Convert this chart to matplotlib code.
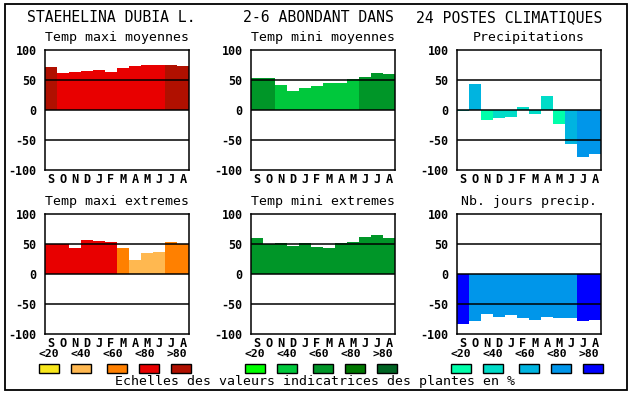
import matplotlib
matplotlib.use("Agg")
import matplotlib.pyplot as plt
from matplotlib.patches import Rectangle
import numpy as np

W, H = 630, 394

months = ["S", "O", "N", "D", "J", "F", "M", "A", "M", "J", "J", "A"]
class_labels = ["<20", "<40", "<60", "<80", ">80"]

reds = ["#f8e71c", "#ffb850", "#ff8000", "#e80000", "#b01000"]
greens = ["#00ff00", "#00c83c", "#009628", "#007800", "#006423"]
blues = ["#00ffaa", "#00dcc8", "#00b4e0", "#0096ea", "#0000ff"]

title_left = "STAEHELINA DUBIA L."
title_mid = "2-6 ABONDANT DANS"
title_right = "24 POSTES CLIMATIQUES"
footer = "Echelles des valeurs indicatrices des plantes en %"

t1 = "Temp maxi moyennes"
v1 = [72, 62, 64, 65, 67, 64, 70, 73, 75, 75, 75, 73]
c1 = [4, 3, 3, 3, 3, 3, 3, 3, 3, 3, 4, 4]

t2 = "Temp mini moyennes"
v2 = [53, 53, 42, 32, 37, 40, 45, 45, 52, 55, 62, 60]
c2 = [2, 2, 1, 1, 1, 1, 1, 1, 1, 2, 2, 2]

t3 = "Precipitations"
v3 = [-2, 43, -16, -14, -11, 5, -6, 23, -23, -56, -78, -73]
c3 = [1, 2, 0, 1, 1, 1, 1, 1, 0, 2, 3, 3]

t4 = "Temp maxi extremes"
v4 = [50, 50, 43, 57, 55, 53, 43, 23, 35, 37, 53, 50]
c4 = [3, 3, 3, 3, 3, 3, 2, 1, 1, 1, 2, 2]

t5 = "Temp mini extremes"
v5 = [60, 50, 52, 47, 52, 45, 43, 52, 53, 62, 65, 60]
c5 = [2, 2, 2, 2, 2, 2, 2, 2, 2, 2, 2, 2]

t6 = "Nb. jours precip."
v6 = [-83, -78, -66, -71, -68, -73, -76, -71, -73, -73, -78, -76]
c6 = [4, 3, 3, 3, 3, 3, 3, 3, 3, 3, 4, 4]

yticks = [-100, -50, 0, 50, 100]

MONO = "DejaVu Sans Mono"

fig = plt.figure(figsize=(W / 100, H / 100), dpi=100)
fig.patch.set_facecolor("white")


def fx(x):
    return x / W


def fy(y):
    return 1 - y / H


def axes_px(left, top, w, h):
    return fig.add_axes([fx(left), fy(top + h), w / W, h / H])


# outer frame
fig.add_artist(Rectangle((fx(5), fy(390)), (627 - 5) / W, (390 - 4) / H,
                         transform=fig.transFigure, fill=False,
                         edgecolor="black", linewidth=1.3))

fig.text(fx(27), fy(18), title_left, family=MONO, fontsize=10.6,
         ha="left", va="center")
fig.text(fx(243), fy(18), title_mid, family=MONO, fontsize=10.6,
         ha="left", va="center")
fig.text(fx(602), fy(18), title_right, family=MONO, fontsize=10.6,
         ha="right", va="center")

panels = [
    (t1, v1, c1, reds, 45, 50),
    (t2, v2, c2, greens, 251, 50),
    (t3, v3, c3, blues, 457, 50),
    (t4, v4, c4, reds, 45, 214),
    (t5, v5, c5, greens, 251, 214),
    (t6, v6, c6, blues, 457, 214),
]

x = np.arange(len(months))
for title, vals, cls, pal, left, top in panels:
    ax = axes_px(left, top, 144, 120)
    ax.bar(x, vals, width=1.0, align="edge",
           color=[pal[c] for c in cls], linewidth=0, zorder=1)
    for yv in (50, 0, -50):
        ax.axhline(yv, color="black", linewidth=1.1, zorder=3)
    ax.set_xlim(0, 12)
    ax.set_ylim(-100, 100)
    ax.set_yticks(yticks)
    ax.set_yticklabels([str(v) for v in yticks], family=MONO,
                       fontweight="bold", fontsize=8.4)
    ax.set_xticks(x + 0.5)
    ax.set_xticklabels(months, family=MONO, fontweight="bold", fontsize=8.6)
    ax.tick_params(axis="both", length=0)
    ax.tick_params(axis="y", pad=6)
    ax.tick_params(axis="x", pad=2)
    for sp in ax.spines.values():
        sp.set_linewidth(1.1)
        sp.set_zorder(4)
    fig.text(fx(left + 72), fy(top - 12), title, family=MONO, fontsize=9.5,
             ha="center", va="center")

# legends
label_off = [4.3, 35.8, 68.3, 100, 131.7]
sw_off = [-6, 26, 62, 94, 126]
for pal, left in ((reds, 45), (greens, 251), (blues, 457)):
    for i, lab in enumerate(class_labels):
        fig.text(fx(left + label_off[i]), fy(354), lab, family=MONO,
                 fontweight="bold", fontsize=8.2, ha="center", va="center")
        fig.add_artist(Rectangle((fx(left + sw_off[i]), fy(373)), 20 / W, 9 / H,
                                 transform=fig.transFigure,
                                 facecolor=pal[i], edgecolor="black",
                                 linewidth=1.0))

fig.text(fx(315), fy(382), footer, family=MONO, fontsize=9.5,
         ha="center", va="center")

fig.savefig("out.png", dpi=100)
